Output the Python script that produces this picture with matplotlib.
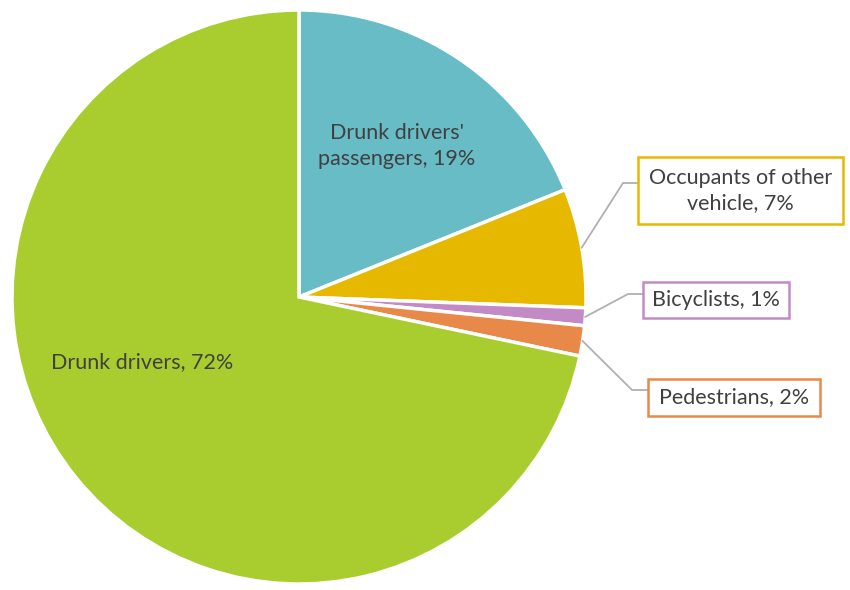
import numpy as np
import matplotlib.pyplot as plt
from matplotlib.patches import Rectangle

plt.rcParams['font.family'] = ['Lato', 'DejaVu Sans']

# data (clockwise from 12 o'clock)
labels = ["Drunk drivers'\npassengers", "Occupants of other\nvehicle", "Bicyclists", "Pedestrians", "Drunk drivers"]
shown_pct = [19, 7, 1, 2, 72]
values = [18.9, 6.7, 1.0, 1.7, 71.7]
colors = ['#67bcc6', '#e6b800', '#c38bc5', '#e8894a', '#a9cd2e']

W, H = 850, 590
fig = plt.figure(figsize=(W / 100, H / 100), dpi=100)
ax = fig.add_axes([0, 0, 1, 1])

cx, cy, r = 299, H - 297, 287
wedges, _ = ax.pie(values, colors=colors, startangle=90, counterclock=False,
                   center=(cx, cy), radius=r, frame=True,
                   wedgeprops=dict(edgecolor='white', linewidth=2.5))
ax.set_xlim(0, W)
ax.set_ylim(0, H)
ax.set_aspect('equal')
ax.axis('off')

txt = '#404040'
fs = 15.5

# labels inside the big slices
ax.text(397, H - 146, f"{labels[0]}, {shown_pct[0]}%", ha='center', va='center',
        fontsize=fs, color=txt, linespacing=1.32)
ax.text(142, H - 362, f"{labels[4]}, {shown_pct[4]}%", ha='center', va='center',
        fontsize=fs, color=txt)

# callouts for small slices: (box left, box top, width, height), elbow point
callouts = {
    1: ((638, 157, 205, 67), (623, 183)),
    2: ((643, 282, 146, 36), (628, 294)),
    3: ((648, 379, 172, 37), (632, 390)),
}
for i, ((bx, by, bw, bh), (ex, ey)) in callouts.items():
    w = wedges[i]
    mid = np.deg2rad((w.theta1 + w.theta2) / 2)
    px, py = cx + r * np.cos(mid), cy + r * np.sin(mid)
    ax.plot([px, ex, bx], [py, H - ey, H - ey], color='#b0b0b0', lw=1.3, zorder=1)
    ax.add_patch(Rectangle((bx, H - by - bh), bw, bh, facecolor='white',
                           edgecolor=colors[i], lw=1.8, zorder=3))
    ax.text(bx + bw / 2, H - by - bh / 2, f"{labels[i]}, {shown_pct[i]}%",
            ha='center', va='center', fontsize=fs, color=txt, linespacing=1.32, zorder=4)

fig.savefig('out.png', dpi=100)
